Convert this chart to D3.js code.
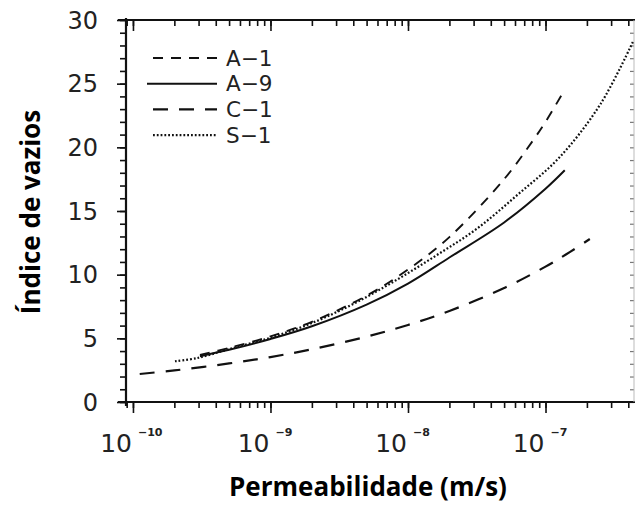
<!DOCTYPE html>
<meta charset="utf-8">
<style>

html,
body {
  margin: 0;
  overflow: hidden;
  background: #fff;
}

.curve {
  fill: none;
  stroke: #111;
}

.axis path {
  display: none;
}

.axis line {
  stroke: #111;
  stroke-width: 1.6;
}

</style>
<body>
<script src="https://d3js.org/d3.v7.min.js"></script>
<script>

var width = 635,
  height = 510,
  plotLeft = 126,
  plotRight = 634,
  plotTop = 20,
  plotBottom = 402;

// permeabilidade (m/s) e indice de vazios
var kA1 = [3.07e-10, 5e-10, 1e-9, 2e-9, 5e-9, 1e-8, 2e-8, 5e-8, 8e-8, 1e-7, 1.34e-7];
var eA1 = [3.7, 4.25, 5.15, 6.3, 8.35, 10.4, 12.95, 17.5, 20.45, 22.0, 24.3];

var kA9 = [3.07e-10, 5e-10, 1e-9, 2e-9, 5e-9, 1e-8, 2e-8, 5e-8, 1e-7, 1.38e-7];
var eA9 = [3.6, 4.1, 4.95, 5.95, 7.65, 9.3, 11.35, 14.1, 16.75, 18.2];

var kC1 = [1.12e-10, 2e-10, 5e-10, 1e-9, 2e-9, 5e-9, 1e-8, 2e-8, 5e-8, 1e-7, 1.5e-7, 2.1e-7];
var eC1 = [2.2, 2.48, 3.03, 3.53, 4.14, 5.13, 6.05, 7.15, 8.95, 10.63, 11.77, 12.8];

var kS1 = [2.02e-10, 2.92e-10, 5e-10, 1e-9, 2e-9, 4e-9, 8e-9, 1.6e-8, 3.16e-8, 6.3e-8, 1.26e-7, 2.51e-7, 4.37e-7];
var eS1 = [3.2, 3.45, 4.15, 5.05, 6.2, 7.7, 9.5, 11.5, 13.6, 16.3, 19.2, 23.4, 28.4];

var names = ["A\u22121", "A\u22129", "C\u22121", "S\u22121"];
var dashes = ["10,8", null, "15,11", "1.8,2"];
var widths = [1.9, 2, 2.2, 2.2];

var yTicks = [0, 5, 10, 15, 20, 25, 30];
var xDecades = [-10, -9, -8, -7];

var series = [
  { k: kA1, e: eA1 },
  { k: kA9, e: eA9 },
  { k: kC1, e: eC1 },
  { k: kS1, e: eS1 }
];

var x = d3.scaleLog().domain([8.9e-11, 4.4e-7]).range([plotLeft, plotRight]);
var y = d3.scaleLinear().domain([0, 30]).range([plotBottom, plotTop]);

var svg = d3.select("body")
  .append("svg")
  .attr("width", width)
  .attr("height", height);

svg.append("clipPath")
  .attr("id", "plot")
  .append("rect")
  .attr("x", plotLeft)
  .attr("y", plotTop)
  .attr("width", plotRight - plotLeft)
  .attr("height", plotBottom - plotTop);

// ticks menores e maiores do eixo x
var xMinor = [];
for (var p = -11; p <= -7; p++) {
  for (var m = 1; m <= 9; m++) {
    var v = m * Math.pow(10, p);
    if (v >= 8.9e-11 && v <= 4.4e-7) xMinor.push(v);
  }
}
var xMajor = xDecades.map(function(d) { return Math.pow(10, d); });
var yMinor = d3.range(0, 31);

function xAxis(g, ticks, size) {
  g.call(d3.axisBottom(x).tickValues(ticks).tickSize(size).tickFormat(""));
}
function yAxis(g, ticks, size) {
  g.call(d3.axisLeft(y).tickValues(ticks).tickSize(size).tickFormat(""));
}

[plotBottom, plotTop].forEach(function(yy) {
  svg.append("g").attr("class", "axis").attr("transform", "translate(0," + yy + ")")
    .call(xAxis, xMinor, 6);
  svg.append("g").attr("class", "axis").attr("transform", "translate(0," + yy + ")")
    .call(xAxis, xMajor, 11);
});

svg.append("g").attr("class", "axis").attr("transform", "translate(" + plotLeft + ",0)")
  .call(yAxis, yMinor, 6);
svg.append("g").attr("class", "axis").attr("transform", "translate(" + plotLeft + ",0)")
  .call(yAxis, yTicks, 9);

var rightAxis = svg.append("g").attr("class", "axis").attr("transform", "translate(" + plotRight + ",0)")
  .call(yAxis, yMinor, 4);
rightAxis.selectAll("line").style("stroke", "#777").style("stroke-width", 1.2);

// moldura
svg.append("line").attr("x1", 118).attr("x2", width).attr("y1", plotTop).attr("y2", plotTop)
  .style("stroke", "#111").style("stroke-width", 2.2);
svg.append("line").attr("x1", 118).attr("x2", width).attr("y1", plotBottom).attr("y2", plotBottom)
  .style("stroke", "#111").style("stroke-width", 2.2);
svg.append("line").attr("x1", plotLeft).attr("x2", plotLeft).attr("y1", plotTop - 2).attr("y2", plotBottom + 4)
  .style("stroke", "#111").style("stroke-width", 2.2);
svg.append("line").attr("x1", plotRight).attr("x2", plotRight).attr("y1", plotTop).attr("y2", plotBottom)
  .style("stroke", "#bbb").style("stroke-width", 1);

// rotulos dos eixos
svg.selectAll(".ylab")
  .data(yTicks)
  .enter().append("text")
  .attr("x", 98)
  .attr("y", function(d) { return y(d); })
  .attr("dy", "0.36em")
  .attr("text-anchor", "end")
  .attr("font-family", "DejaVu Sans")
  .attr("font-size", 24)
  .attr("fill", "#222")
  .text(function(d) { return d; });

var xlab = svg.selectAll(".xlab")
  .data(xDecades)
  .enter().append("g")
  .attr("transform", function(d) { return "translate(" + x(Math.pow(10, d)) + ",452)"; });

xlab.append("text")
  .attr("x", -1)
  .attr("text-anchor", "end")
  .attr("font-family", "DejaVu Sans")
  .attr("font-size", 25)
  .attr("fill", "#222")
  .text("10");

xlab.append("text")
  .attr("x", 5)
  .attr("y", -16)
  .attr("font-family", "DejaVu Sans")
  .attr("font-weight", "bold")
  .attr("font-size", 11)
  .attr("fill", "#222")
  .text(function(d) { return "\u2212" + (-d); });

svg.append("text")
  .attr("x", 368)
  .attr("y", 496)
  .attr("text-anchor", "middle")
  .attr("font-family", "Open Sans")
  .attr("font-weight", "bold")
  .attr("font-size", 26)
  .text("Permeabilidade (m/s)");

svg.append("text")
  .attr("transform", "translate(40,212) rotate(-90)")
  .attr("text-anchor", "middle")
  .attr("font-family", "Open Sans")
  .attr("font-weight", "bold")
  .attr("font-size", 26)
  .text("\u00cdndice de vazios");

// curvas
var line = d3.line()
  .x(function(d) { return x(d[0]); })
  .y(function(d) { return y(d[1]); })
  .curve(d3.curveCatmullRom);

svg.append("g")
  .attr("clip-path", "url(#plot)")
  .selectAll("path")
  .data(series)
  .enter().append("path")
  .attr("class", "curve")
  .attr("d", function(s) { return line(d3.zip(s.k, s.e)); })
  .attr("stroke-dasharray", function(s, i) { return dashes[i]; })
  .style("stroke-width", function(s, i) { return widths[i]; });

// legenda
var legend = svg.selectAll(".legend")
  .data(names)
  .enter().append("g")
  .attr("transform", function(d, i) { return "translate(0," + (58 + i * 25.7) + ")"; });

legend.append("line")
  .attr("x1", function(d, i) { return i == 1 ? 147 : 153; })
  .attr("x2", 217)
  .attr("class", "curve")
  .attr("stroke-dasharray", function(d, i) { return dashes[i]; })
  .style("stroke-width", function(d, i) { return widths[i]; });

legend.append("text")
  .attr("x", 226)
  .attr("dy", 7.7)
  .attr("font-family", "DejaVu Sans")
  .attr("font-size", 21.5)
  .attr("fill", "#222")
  .text(function(d) { return d; });

</script>
